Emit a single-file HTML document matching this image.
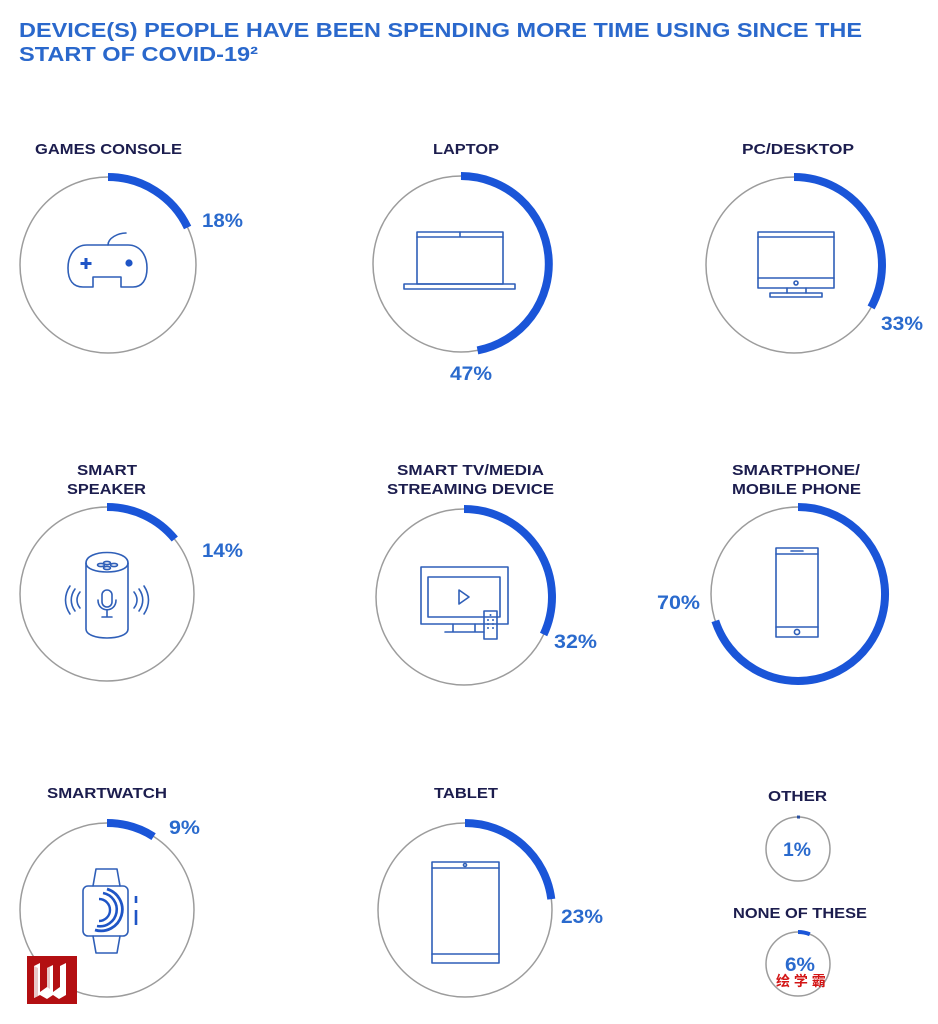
<!DOCTYPE html>
<html><head><meta charset="utf-8"><style>
html,body{margin:0;padding:0;background:#fff;}
svg{display:block;}
.t{font-family:"Liberation Sans","Noto Sans CJK SC",sans-serif;font-weight:bold;fill:#2a68cc;font-size:20px;}
.l{font-family:"Liberation Sans",sans-serif;font-weight:bold;fill:#1c1d4e;font-size:15px;}
.p{font-family:"Liberation Sans",sans-serif;font-weight:bold;fill:#2a6acd;font-size:19px;}
.c{fill:none;stroke:#9c9c9c;stroke-width:1.5;}
.a{fill:none;stroke:#1a55d8;stroke-width:8;}
.i{fill:none;stroke:#2f5fb8;stroke-width:1.6;stroke-linejoin:round;stroke-linecap:round;}
</style></head><body>
<svg width="938" height="1024" viewBox="0 0 938 1024" xmlns="http://www.w3.org/2000/svg">
<rect width="938" height="1024" fill="#fff"/>
<text class="t" x="19" y="37" textLength="843" lengthAdjust="spacingAndGlyphs">DEVICE(S) PEOPLE HAVE BEEN SPENDING MORE TIME USING SINCE THE</text>
<text class="t" x="19" y="61" textLength="239" lengthAdjust="spacingAndGlyphs">START OF COVID-19²</text>

<!-- Row 1 -->
<text class="l" x="35" y="154" textLength="147" lengthAdjust="spacingAndGlyphs">GAMES CONSOLE</text>
<circle class="c" cx="108" cy="265" r="88"/>
<path class="a" d="M108,177 A88,88 0 0 1 187.6,227.5"/>
<text class="p" x="202" y="227" textLength="41" lengthAdjust="spacingAndGlyphs">18%</text>
<path class="i" d="M93,287 V277 H121 V287 H133 C142,287 147,280 147,268 C147,255 140,245 128,245 H87 C75,245 68,255 68,268 C68,280 73,287 83,287 Z"/>
<path class="i" d="M108,245 C108,238 118,233 126,233"/>
<path d="M86,258 V269 M80.5,263.5 H91.5" stroke="#1f55c6" stroke-width="3" fill="none"/>
<circle cx="129" cy="263" r="3.6" fill="#1f55c6"/>

<text class="l" x="433" y="154" textLength="66" lengthAdjust="spacingAndGlyphs">LAPTOP</text>
<circle class="c" cx="461" cy="264" r="88"/>
<path class="a" d="M461,176 A88,88 0 0 1 477.5,350.4"/>
<text class="p" x="450" y="380" textLength="42" lengthAdjust="spacingAndGlyphs">47%</text>
<rect class="i" x="417" y="232" width="86" height="52"/>
<line class="i" x1="417" y1="237" x2="503" y2="237"/>
<line class="i" x1="460" y1="232" x2="460" y2="236"/>
<rect class="i" x="404" y="284" width="111" height="5"/>

<text class="l" x="742" y="154" textLength="112" lengthAdjust="spacingAndGlyphs">PC/DESKTOP</text>
<circle class="c" cx="794" cy="265" r="88"/>
<path class="a" d="M794,177 A88,88 0 0 1 871.1,307.4"/>
<text class="p" x="881" y="330" textLength="42" lengthAdjust="spacingAndGlyphs">33%</text>
<rect class="i" x="758" y="232" width="76" height="56"/>
<line class="i" x1="758" y1="237" x2="834" y2="237"/>
<line class="i" x1="758" y1="278" x2="834" y2="278"/>
<circle class="i" cx="796" cy="283" r="2"/>
<path class="i" d="M787,288 V293 M806,288 V293"/>
<rect class="i" x="770" y="293" width="52" height="4"/>

<!-- Row 2 -->
<text class="l" x="77" y="475" textLength="60" lengthAdjust="spacingAndGlyphs">SMART</text>
<text class="l" x="67" y="494" textLength="79" lengthAdjust="spacingAndGlyphs">SPEAKER</text>
<circle class="c" cx="107" cy="594" r="87"/>
<path class="a" d="M107,507 A87,87 0 0 1 174.8,539"/>
<text class="p" x="202" y="557" textLength="41" lengthAdjust="spacingAndGlyphs">14%</text>
<path class="i" d="M86,563 C86,549 128,549 128,563 V629 C128,641 86,641 86,629 Z"/>
<path class="i" d="M86,563 C86,575 128,575 128,563"/>
<ellipse class="i" cx="101" cy="565" rx="3.5" ry="1.6"/>
<ellipse class="i" cx="107" cy="563" rx="3.5" ry="1.6"/>
<ellipse class="i" cx="107" cy="568" rx="3.5" ry="1.6"/>
<ellipse class="i" cx="114" cy="565" rx="3.5" ry="1.6"/>
<rect class="i" x="102" y="590" width="10" height="17" rx="5"/>
<path class="i" d="M98,600 C98,613 116,613 116,600 M107,610 V617 M102,617 H112"/>
<path class="i" d="M80,592 C76,597 76,603 80,608 M75,589 C70,596 70,604 75,611 M70,586 C64,595 64,605 70,614"/>
<path class="i" d="M134,592 C138,597 138,603 134,608 M139,589 C144,596 144,604 139,611 M144,586 C150,595 150,605 144,614"/>

<text class="l" x="397" y="475" textLength="147" lengthAdjust="spacingAndGlyphs">SMART TV/MEDIA</text>
<text class="l" x="387" y="494" textLength="167" lengthAdjust="spacingAndGlyphs">STREAMING DEVICE</text>
<circle class="c" cx="464" cy="597" r="88"/>
<path class="a" d="M464,509 A88,88 0 0 1 543.6,634.5"/>
<text class="p" x="554" y="648" textLength="43" lengthAdjust="spacingAndGlyphs">32%</text>
<rect class="i" x="421" y="567" width="87" height="57"/>
<rect class="i" x="428" y="577" width="72" height="40"/>
<path class="i" d="M459,590 L469,597 L459,604 Z"/>
<path class="i" d="M453,624 V632 M475,624 V632 M445,632 H484"/>
<rect class="i" x="484" y="611" width="13" height="28" fill="#fff"/>
<g fill="#2f5fb8"><circle cx="490.5" cy="615" r="1"/><circle cx="488" cy="620" r="1"/><circle cx="493" cy="620" r="1"/><circle cx="488" cy="624" r="1"/><circle cx="493" cy="624" r="1"/><circle cx="488" cy="628" r="1"/><circle cx="493" cy="628" r="1"/></g>

<text class="l" x="732" y="475" textLength="128" lengthAdjust="spacingAndGlyphs">SMARTPHONE/</text>
<text class="l" x="732" y="494" textLength="129" lengthAdjust="spacingAndGlyphs">MOBILE PHONE</text>
<circle class="c" cx="798" cy="594" r="87"/>
<path class="a" d="M798,507 A87,87 0 1 1 715.3,620.9"/>
<text class="p" x="657" y="609" textLength="43" lengthAdjust="spacingAndGlyphs">70%</text>
<rect class="i" x="776" y="548" width="42" height="89"/>
<line class="i" x1="776" y1="554" x2="818" y2="554"/>
<line class="i" x1="791" y1="551" x2="803" y2="551"/>
<line class="i" x1="776" y1="627" x2="818" y2="627"/>
<circle class="i" cx="797" cy="632" r="2.6"/>

<!-- Row 3 -->
<text class="l" x="47" y="798" textLength="120" lengthAdjust="spacingAndGlyphs">SMARTWATCH</text>
<circle class="c" cx="107" cy="910" r="87"/>
<path class="a" d="M107,823 A87,87 0 0 1 153.6,836.6"/>
<text class="p" x="169" y="834" textLength="31" lengthAdjust="spacingAndGlyphs">9%</text>
<path class="i" d="M93,886 L96,869 H117 L120,886 M93,936 L96,953 H117 L120,936"/>
<rect class="i" x="83" y="886" width="45" height="50" rx="5"/>
<path d="M99,899 A10,10 0 0 1 99,921" stroke="#1f55c6" stroke-width="2.4" fill="none"/>
<path d="M103,893 A16,16 0 0 1 97,926" stroke="#1f55c6" stroke-width="2.6" fill="none"/>
<path d="M107,889 A21,21 0 0 1 95,930" stroke="#1f55c6" stroke-width="2.8" fill="none"/>
<path d="M136,896 V903 M136,910 V925" stroke="#1f55c6" stroke-width="2.6" fill="none"/>

<text class="l" x="434" y="798" textLength="64" lengthAdjust="spacingAndGlyphs">TABLET</text>
<circle class="c" cx="465" cy="910" r="87"/>
<path class="a" d="M465,823 A87,87 0 0 1 551.3,899.1"/>
<text class="p" x="561" y="923" textLength="42" lengthAdjust="spacingAndGlyphs">23%</text>
<rect class="i" x="432" y="862" width="67" height="101"/>
<line class="i" x1="432" y1="868" x2="499" y2="868"/>
<line class="i" x1="432" y1="954" x2="499" y2="954"/>
<circle class="i" cx="465" cy="865" r="1.5"/>

<text class="l" x="768" y="801" textLength="59" lengthAdjust="spacingAndGlyphs">OTHER</text>
<circle class="c" cx="798" cy="849" r="32"/>
<path d="M797,817 A32,32 0 0 1 800,817.1" stroke="#2a50a0" stroke-width="3" fill="none"/>
<text class="p" x="783" y="856" textLength="28" lengthAdjust="spacingAndGlyphs">1%</text>

<text class="l" x="733" y="918" textLength="134" lengthAdjust="spacingAndGlyphs">NONE OF THESE</text>
<circle class="c" cx="798" cy="964" r="32"/>
<path d="M798,932 A32,32 0 0 1 809.8,934.2" stroke="#1a55d8" stroke-width="4" fill="none"/>
<text class="p" x="785" y="971" textLength="30" lengthAdjust="spacingAndGlyphs">6%</text>
<text x="776" y="986" font-family="'Liberation Sans','Noto Sans CJK SC',sans-serif" font-weight="bold" font-size="14" fill="#d31515">绘 学 霸</text>

<!-- logo -->
<rect x="27" y="956" width="50" height="48" fill="#b30f12"/>
<path d="M34,966 L40,963 L40,992 L47,987 L47,968 L53,965 L53,992 L60,987 L60,966 L66,963 L66,995 L59,999 L53,995 L47,999 L40,995 L34,998 Z" fill="#fff"/>
<path d="M34,966 L34,998 L38,996 L38,968 Z M47,968 L47,987 L50,989 L50,967 Z" fill="#e8c8c8"/>
</svg>
</body></html>
